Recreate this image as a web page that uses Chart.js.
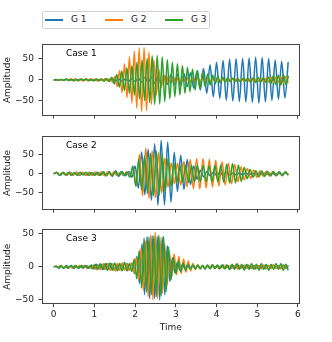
<!DOCTYPE html>
<html>
<head>
<meta charset="utf-8">
<script src="https://cdn.jsdelivr.net/npm/chart.js@4.4.1/dist/chart.umd.min.js"></script>
<style>
  html, body { margin: 0; padding: 0; background: #fff; }
  #wrap { position: relative; width: 332px; height: 342px; overflow: hidden; font-family: 'DejaVu Sans', sans-serif; }
  canvas { position: absolute; left: 0; }
  #legend { position: absolute; left: 42px; top: 11px; width: 166px; height: 16px; border: 1px solid #d0d0d0; border-radius: 3px; font-size: 9px; color: #222; }
  .item { position: absolute; top: 0; height: 16px; }
  .item i { position: absolute; left: 0; top: 7px; width: 18px; height: 1.6px; }
  .item span { position: absolute; left: 26px; top: 2px; line-height: 11px; white-space: nowrap; }
</style>
</head>
<body>
<div id="wrap">
  <div id="legend"></div>
  <canvas id="c1" width="332" height="90" style="top:35px"></canvas>
  <canvas id="c2" width="332" height="92" style="top:127px"></canvas>
  <canvas id="c3" width="332" height="122" style="top:220px"></canvas>
</div>
<script>
// nomes e cores
const seriesNames = ['G 1', 'G 2', 'G 3'];
const caseNames = ['Case 1', 'Case 2', 'Case 3'];
const colors = ['#1f77b4', '#ff7f0e', '#2ca02c'];
const xTicks = [0, 1, 2, 3, 4, 5, 6];
const yTicks = [-50, 0, 50];

// passo de tempo entre picos sucessivos de cada série
const stepsCase1 = [0.08, 0.06, 0.062];
const stepsCase2 = [0.08, 0.078, 0.072];
const stepsCase3 = [0.062, 0.058, 0.06];

// Case 1
const c1g1 = [0,-1,1,-1,1,-1,1,-1,1,-1,1,-1,1,-1,1,-1,2,-1,2,-2,
  2,-3,2,-3,3,-4,4,-5, 6,-6,7,-8,8,-9,10,-11, 12,-12,13,-14,15,-16,17,-19,
  21,-24,27,-32,36,-40,42,-44, 46,-48,49,-50,50,-51,51,-52, 52,-53,54,-55,53,-52,51,-49,
  47,-46,44,-43,42];
const c1g2 = [0,1,-1,1,-1,
  2,-2,3,-2,3,-3,2,-3,3,-2,3,-2,2,-3,2,-2,3,-2,3,
  -5,8,-16,22,-30,38,-42,55,-55,68,-67,76,-75,77,-73,66,-58,48,-36,26,-18,13,-10,9,
  -8,7,-7,6,-6,5,-6,5,-5,6,-5,4,-5,4,-4,5,-4,4,-3,
  4,-3,3,-4,3,-3,3,-2,3,-3,2,-3,3,-3,2,-3,3,-3,3,-4,4,-5,6,-6,7,-6,7,-8,8,-7];
const c1g3 = [0,1,-1,1,-1,2,-1,1,-2,1,-1,2,-1,2,-2,1,-2,2,-2,2,-3,3,
  -4,6,-9,13,-17,21,-25,29,-32,34,-36,
  42,-45,47,-49,51,-54,57,-58,58,-57,55,-52,48,
  -45,42,-40,38,-36,34,-32,30,-28,26,-24,22,
  -20,18,-16,14,-12,11,-9,8,-7,6,-5,5,
  -4,4,-4,3,-4,4,-3,4,-5,5,-6,6,
  -5,5,-6,7,-9,10,-11,11,-12,12,-11,10];

// Case 2
const c2g1 = [0,3,-4,3,-4,4,-3,4,-4,3,-4,4,-3,4,-4,4,-5,6,-7,8,-7,6,-5,6,
  -9,20,-37,57,-55,64,-69,78,-82,87,-81,83,-74,56,-46,48,-41,37,-28,20,-14,9,
  -8,6,-5,4,-4,3,-3,3,-3,2,-3,2,-2,2,-2,2,-2,2,-2,2,-2,2,-2,2,-2,2,-1];
const c2g2 = [0,4,-3,4,-4,3,-4,4,-3,4,-4,3,-4,4,-4,5,-5,5,-4,5,-5,4,-4,5,
  -8,17,-32,50,-57,67,-64,60,-62,55,-50,41,-35,28,-26,28,-30,32,-34,37,-39,40,
  -39,40,-37,38,-35,35,-32,31,-29,28,-26,24,-21,18,-16,14,-12,10,
  -9,8,-7,7,-6,6,-5,5,-5,4,-3];
const c2g3 = [0,3,-4,3,-3,4,-4,3,-4,4,-3,4,-4,3,-4,4,-4,5,-5,4,-5,5,-4,5,-5,4,
  -9,20,-32,37,-42,46,-51,53,-57,59,-55,51,-46,39,-32,28,-24,23,
  -22,22,-23,22,-22,22,-21,22,-21,21,-21,22,-21,22,-22,
  25,-24,27,-24,23,-20,17,-13,11,-9,
  8,-8,7,-7,6,-6,6,-5,5,-5,5,-4];

// Case 3
const c3g1 = [0,1,-2,1,-2,2,-1,2,-2,1,-2,2,-1,2,-2,
  3,-3,4,-3,4,-4,5,-4,5,-5,4,-5,5,-4,5,-5,6,
  -10,16,-25,35,-42,46,-48,47,-48,46,-50,45,-42,32,-22,14,-9,7,-5,4,-3,3,-3,2,-2,
  2,-2,2,-3,2,-2,3,-2,2,-2,3,-2,2,-3,2,-2,3,-2,2,-2,3,-2,2,-3,2,-2,2,-3,2,-2,3,-2,2,-2,3,-2,2];
const c3g2 = [0,1,-1,2,-1,1,-2,1,-2,2,-1,2,-1,2,-2,1,-2,
  3,-4,3,-4,5,-4,5,-5,4,-6,5,-5,6,-5,4,-5,6,
  -9,14,-20,28,-35,40,-45,48,-50,52,-48,45,-40,35,-28,22,-15,20,-12,16,-10,12,-8,9,-6,5,-4,3,-3,
  2,-3,2,-2,3,-2,2,-3,2,-2,3,-2,2,-2,3,-3,2,-2,3,-2,2,-3,2,-2,2,-3,3,-2,2,-2,3,-2,2,-3,2,-2,3];
const c3g3 = [0,1,-1,2,-2,1,-2,2,-1,2,-2,1,-2,2,-2,2,
  -3,4,-4,5,-4,5,-5,6,-5,6,-6,5,-6,7,-6,5,-7,
  12,-18,25,-32,44,-38,45,-42,47,-45,48,-44,46,-38,30,-20,14,-10,9,-7,6,-5,4,-3,3,
  -3,3,-3,2,-3,3,-3,3,-2,3,-3,3,-3,3,
  -4,4,-4,5,-4,4,-5,4,-4,5,-4,4,-5,5,-4,4,-5,4,-4,5,-4,5,-5,4,-5];

// legenda em HTML
const legend = document.getElementById('legend');
seriesNames.forEach((nome, k) => {
  const item = document.createElement('div');
  item.className = 'item';
  item.style.left = (2 + k * 60) + 'px';
  item.innerHTML = '<i style="background:' + colors[k] + '"></i><span>' + nome + '</span>';
  legend.appendChild(item);
});

Chart.defaults.font.family = "'DejaVu Sans', sans-serif";
Chart.defaults.font.size = 9;
Chart.defaults.color = '#222';

// moldura do eixo + texto "Case N"
const framePlugin = {
  id: 'frame',
  afterDraw(chart, args, opts) {
    const { ctx, chartArea: a } = chart;
    const l = Math.floor(a.left) + 0.5, t = Math.floor(a.top) + 0.5;
    const r = Math.floor(a.right) + 0.5, b = Math.floor(a.bottom) + 0.5;
    ctx.save();
    ctx.strokeStyle = '#444';
    ctx.lineWidth = 1;
    ctx.strokeRect(l, t, r - l, b - t);
    ctx.fillStyle = '#000';
    ctx.font = "9px 'DejaVu Sans'";
    ctx.textBaseline = 'alphabetic';
    ctx.fillText(opts.text, a.left + 24, a.top + 11.5);
    ctx.restore();
  }
};

function minus(v) {
  return v < 0 ? '\u2212' + Math.abs(v) : String(v);
}

function criarPainel(id, idx, series, steps, yMin, yMax, padTop, padBottom, xHeight, showX) {
  const datasets = series.map((vals, k) => ({
    label: seriesNames[k],
    data: vals.map((v, i) => ({ x: i * steps[k], y: v })),
    borderColor: colors[k],
    borderWidth: 1.5,
    pointRadius: 0,
    fill: false,
    cubicInterpolationMode: 'monotone',
    order: 2 - k
  }));

  const gridOpts = { drawOnChartArea: false, drawTicks: true, tickLength: 3.5, tickColor: '#444', tickWidth: 1 };

  return new Chart(document.getElementById(id), {
    type: 'line',
    data: { datasets },
    plugins: [framePlugin],
    options: {
      responsive: false,
      animation: false,
      events: [],
      layout: { padding: { left: 0, right: 32.5, top: padTop, bottom: padBottom } },
      plugins: {
        legend: { display: false },
        tooltip: { enabled: false },
        frame: { text: caseNames[idx] }
      },
      scales: {
        x: {
          type: 'linear',
          min: -0.2875,
          max: 6.0375,
          afterBuildTicks: s => { s.ticks = xTicks.map(v => ({ value: v })); },
          afterFit: s => { s.height = xHeight; },
          grid: gridOpts,
          border: { display: false },
          ticks: { display: showX, padding: 2, maxRotation: 0, autoSkip: false, color: '#222' },
          title: { display: showX, text: 'Time', color: '#222', padding: { top: 0, bottom: 3.3 } }
        },
        y: {
          type: 'linear',
          min: yMin,
          max: yMax,
          afterBuildTicks: s => { s.ticks = yTicks.map(v => ({ value: v })); },
          afterFit: s => { s.width = 42; },
          grid: gridOpts,
          border: { display: false },
          ticks: { padding: 4.5, color: '#222', callback: v => minus(v) },
          title: { display: true, text: 'Amplitude', color: '#222', padding: { top: 2, bottom: 0 } }
        }
      }
    }
  });
}

criarPainel('c1', 0, [c1g1, c1g2, c1g3], stepsCase1, -83.5, 83, 6, 1.3, 6, false);
criarPainel('c2', 1, [c2g1, c2g2, c2g3], stepsCase2, -92, 96, 6.3, 2, 6, false);
criarPainel('c3', 2, [c3g1, c3g2, c3g3], stepsCase3, -55.7, 56, 6.7, 6, 32.3, true);
</script>
</body>
</html>
